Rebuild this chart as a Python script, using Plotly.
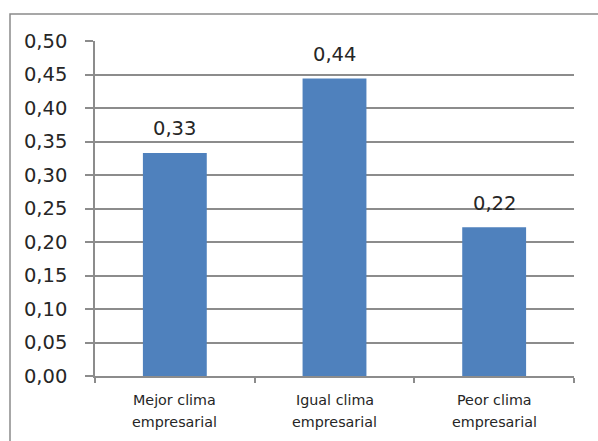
import plotly.graph_objects as go

# Clima empresarial: proporción de respuestas por categoría
categorias = ["Mejor clima empresarial", "Igual clima empresarial", "Peor clima empresarial"]
linea1 = ["Mejor clima", "Igual clima", "Peor clima"]
linea2 = ["empresarial", "empresarial", "empresarial"]
proporciones = [0.333, 0.444, 0.222]
ticks_y = [0.00, 0.05, 0.10, 0.15, 0.20, 0.25, 0.30, 0.35, 0.40, 0.45, 0.50]

W, H = 598, 441
M_L, M_R, M_T, M_B = 95, 24, 41, 65
plot_w = W - M_L - M_R
plot_h = H - M_T - M_B

def coma(v):
    return f"{v:.2f}".replace(".", ",")

def paper_y(px):
    # posición vertical en coordenadas de papel a partir de píxeles desde arriba
    return (H - M_B - px) / plot_h

grid_col = "#8c8c8c"
text_col = "#262626"

fig = go.Figure(
    go.Bar(
        x=categorias,
        y=proporciones,
        width=0.40,
        marker=dict(color="#4F81BD", line=dict(width=0)),
        hoverinfo="skip",
    )
)

# Etiquetas de valor sobre cada barra
for c, v in zip(categorias, proporciones):
    fig.add_annotation(
        x=c, y=v, xref="x", yref="y",
        text=coma(v), showarrow=False,
        yanchor="middle", yshift=24,
        font=dict(family="DejaVu Sans", size=19.5, color=text_col),
    )

# Rótulos de categoría en dos líneas con interlineado amplio
for c, l1, l2 in zip(categorias, linea1, linea2):
    for texto, py in ((l1, 400), (l2, 422)):
        fig.add_annotation(
            x=c, y=paper_y(py), xref="x", yref="paper",
            text=texto, showarrow=False, yanchor="middle",
            font=dict(family="DejaVu Sans", size=14.3, color=text_col),
        )

# Marco exterior del gráfico
fig.add_shape(
    type="rect", xref="paper", yref="paper",
    x0=(10 - M_L) / plot_w, x1=1.3,
    y0=-0.4, y1=paper_y(14),
    line=dict(color="#8a8a8a", width=1.5),
    fillcolor="rgba(0,0,0,0)", layer="below",
)

fig.update_layout(
    width=W, height=H,
    margin=dict(l=M_L, r=M_R, t=M_T, b=M_B, pad=0),
    paper_bgcolor="white", plot_bgcolor="white",
    showlegend=False,
    bargap=0.6,
)

fig.update_xaxes(
    showticklabels=False,
    tickson="boundaries", ticks="outside", ticklen=5, tickwidth=1.5, tickcolor=grid_col,
    showline=True, linecolor=grid_col, linewidth=1.5,
    showgrid=False, zeroline=False,
)

fig.update_yaxes(
    range=[0, 0.5], tickmode="array", tickvals=ticks_y,
    ticktext=[coma(t) for t in ticks_y],
    ticks="outside", ticklen=8, tickwidth=1.5, tickcolor=grid_col,
    showline=True, linecolor=grid_col, linewidth=1.5,
    showgrid=True, gridcolor=grid_col, gridwidth=1.5,
    zeroline=False,
    tickfont=dict(family="DejaVu Sans", size=19.5, color=text_col),
    ticklabelstandoff=14,
)

fig.write_html("out.html")
